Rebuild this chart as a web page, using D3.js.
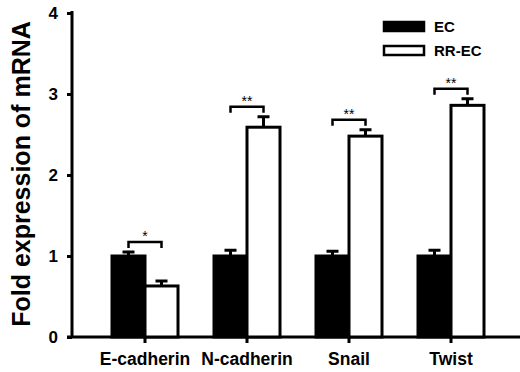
<!DOCTYPE html>
<html>
<head>
<meta charset="utf-8">
<script src="https://cdn.jsdelivr.net/npm/d3@7"></script>
<style>
  body { margin: 0; background: #fff; }
  text { font-family: "Liberation Sans", Arial, sans-serif; font-weight: bold; }
</style>
</head>
<body>
<svg width="520" height="372"></svg>
<script>
var width = 520,
    height = 372;

// data
var genes = ["E-cadherin", "N-cadherin", "Snail", "Twist"];
var groups = ["EC", "RR-EC"];
var ecValues = [1.0, 1.0, 1.0, 1.0];
var ecErrors = [0.05, 0.07, 0.06, 0.07];
var rrValues = [0.63, 2.59, 2.48, 2.86];
var rrErrors = [0.06, 0.13, 0.08, 0.08];
var stars = ["*", "**", "**", "**"];
var yTicks = [0, 1, 2, 3, 4];

var svg = d3.select("svg");

var y = d3.scaleLinear().domain([0, 4]).range([337, 13]);
var x0 = d3.scaleBand().domain(genes).range([94, 502]).padding(0);
var x1 = d3.scaleBand().domain(groups).range([18, 84]).padding(0);

var rows = genes.map(function(g, i) {
  return {
    gene: g,
    star: stars[i],
    bars: [
      {group: "EC", value: ecValues[i], err: ecErrors[i]},
      {group: "RR-EC", value: rrValues[i], err: rrErrors[i]}
    ]
  };
});

// y axis
var yAxis = svg.append("g")
  .attr("transform", "translate(72,0)")
  .call(d3.axisLeft(y).tickValues(yTicks).tickFormat(d3.format("d")).tickSize(5).tickPadding(9));
yAxis.select(".domain").attr("stroke-width", 3).attr("d", "M0,337V11");
yAxis.selectAll(".tick line").attr("stroke-width", 3);
yAxis.selectAll(".tick text").style("font-size", "17px").attr("dy", "0.3em");

// x axis
var xAxis = svg.append("g")
  .attr("transform", "translate(0,337)")
  .call(d3.axisBottom(x0).tickSize(6).tickPadding(10));
xAxis.select(".domain").attr("stroke-width", 3).attr("d", "M67,0H520");
xAxis.selectAll(".tick line").attr("stroke-width", 3);
xAxis.selectAll(".tick text").style("font-size", "17.5px").attr("fill", "#000");

// bars
var gGroup = svg.append("g").selectAll("g")
  .data(rows)
  .enter().append("g")
  .attr("transform", function(d) { return "translate(" + x0(d.gene) + ",0)"; });

gGroup.selectAll("rect")
  .data(function(d) { return d.bars; })
  .enter().append("rect")
  .attr("x", function(d) { return x1(d.group); })
  .attr("y", function(d) { return y(d.value); })
  .attr("width", x1.bandwidth())
  .attr("height", function(d) { return y(0) - y(d.value); })
  .attr("fill", function(d) { return d.group === "EC" ? "#000" : "#fff"; })
  .attr("stroke", "#000")
  .attr("stroke-width", 3);

// error bars (upper only)
gGroup.selectAll("path.err")
  .data(function(d) { return d.bars; })
  .enter().append("path")
  .attr("class", "err")
  .attr("fill", "none")
  .attr("stroke", "#000")
  .attr("stroke-width", 3)
  .attr("d", function(d) {
    var cx = x1(d.group) + x1.bandwidth() / 2;
    return "M" + cx + "," + y(d.value) + "V" + y(d.value + d.err) +
      "M" + (cx - 6) + "," + y(d.value + d.err) + "H" + (cx + 6);
  });

// significance brackets
function bracketTop(d) {
  return d3.min(d.bars, function(b) { return y(b.value + b.err); }) - 10;
}

gGroup.append("path")
  .attr("fill", "none")
  .attr("stroke", "#000")
  .attr("stroke-width", 2.5)
  .attr("d", function(d) {
    var top = bracketTop(d);
    var xa = x1("EC") + x1.bandwidth() / 2,
        xb = x1("RR-EC") + x1.bandwidth() / 2;
    return "M" + xa + "," + (top + 6) + "V" + top + "H" + xb + "V" + (top + 6);
  });

gGroup.append("text")
  .attr("x", x1("RR-EC"))
  .attr("y", bracketTop)
  .attr("dy", "-1px")
  .attr("text-anchor", "middle")
  .style("font-size", "14px")
  .style("font-weight", "normal")
  .text(function(d) { return d.star; });

// legend
var legend = svg.append("g").selectAll("g")
  .data(groups)
  .enter().append("g")
  .attr("transform", function(d, i) { return "translate(384," + (22 + i * 24) + ")"; });

legend.append("rect")
  .attr("width", 40)
  .attr("height", 9)
  .attr("fill", function(d) { return d === "EC" ? "#000" : "#fff"; })
  .attr("stroke", "#000")
  .attr("stroke-width", 2.5);

legend.append("text")
  .attr("x", 50)
  .attr("y", 5)
  .attr("dy", "0.36em")
  .style("font-size", "15px")
  .text(function(d) { return d; });

// y axis title
svg.append("text")
  .attr("transform", "translate(30,174) rotate(-90)")
  .attr("text-anchor", "middle")
  .style("font-size", "25px")
  .text("Fold expression of mRNA");
</script>
</body>
</html>
